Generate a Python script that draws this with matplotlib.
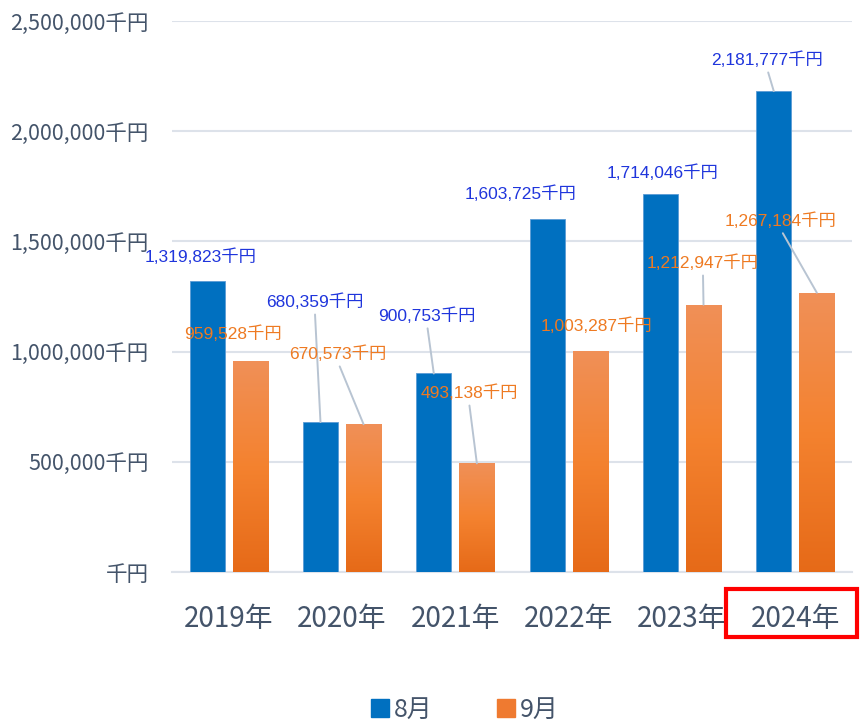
import numpy as np
import matplotlib
matplotlib.use("Agg")
import matplotlib.pyplot as plt
from matplotlib.colors import LinearSegmentedColormap
from matplotlib.patches import Rectangle, Patch

plt.rcParams['font.family'] = ['Noto Sans CJK JP', 'DejaVu Sans']

# data
years = ['2019年', '2020年', '2021年', '2022年', '2023年', '2024年']
aug = [1319823, 680359, 900753, 1603725, 1714046, 2181777]
sep = [959528, 670573, 493138, 1003287, 1212947, 1267184]
series_names = ['8月', '9月']

# label placement (data coords) and whether a leader line is drawn
aug_label_pos = [(-0.25, 1.43e6), (0.76, 1.225e6), (1.75, 1.162e6),
                 (2.58, 1.715e6), (3.83, 1.81e6), (4.75, 2.323e6)]
aug_leader = [False, True, True, False, False, True]
sep_label_pos = [(0.04, 1.08e6), (0.965, 0.989e6), (2.12, 0.812e6),
                 (3.25, 1.116e6), (4.185, 1.402e6), (4.87, 1.593e6)]
sep_leader = [False, True, True, False, True, True]

BLUE = '#0070C0'
LABEL_BLUE = '#1F35DC'
LABEL_ORANGE = '#EE7A22'
TICK_COLOR = '#44546A'
GRID_COLOR = '#DDE2EA'
LEADER_COLOR = '#B8C4D2'
LABEL_FONT = ['Liberation Sans', 'Noto Sans CJK JP']
orange_cmap = LinearSegmentedColormap.from_list('og', ['#F09058', '#F4822F', '#E66A18'])

fig = plt.figure(figsize=(8.61, 7.24), dpi=100)
ax = fig.add_axes([0.1998, 0.2099, 0.7897, 0.7611])

x = np.arange(len(years))
w = 0.31
off = 0.19

ax.bar(x - off, aug, width=w, color=BLUE, edgecolor='#5B9BD5', linewidth=0.6, zorder=3)
obars = ax.bar(x + off, sep, width=w, color='none', edgecolor='none', zorder=3)

# gradient fill for orange bars
grad = np.linspace(0, 1, 256).reshape(-1, 1)
for b in obars:
    x0 = b.get_x()
    im = ax.imshow(grad, cmap=orange_cmap, aspect='auto', origin='upper',
                   extent=(x0, x0 + b.get_width(), 0, b.get_height()), zorder=3)
    im.set_clip_path(b)

ax.set_xlim(-0.5, len(years) - 0.5)
ax.set_ylim(0, 2500000)

# value labels
def add_labels(xs, vals, positions, leaders, color):
    for xi, v, (tx, ty), lead in zip(xs, vals, positions, leaders):
        txt = f"{v:,}千円"
        if lead:
            ax.annotate(txt, xy=(xi, v), xytext=(tx, ty), ha='center', va='center',
                        fontsize=12.5, color=color, zorder=5, family=LABEL_FONT,
                        arrowprops=dict(arrowstyle='-', color=LEADER_COLOR, lw=1.4,
                                        shrinkA=1, shrinkB=0, relpos=(0.5, 0)))
        else:
            ax.text(tx, ty, txt, ha='center', va='center', fontsize=12.5, color=color,
                    zorder=5, family=LABEL_FONT)

add_labels(x - off, aug, aug_label_pos, aug_leader, LABEL_BLUE)
add_labels(x + off, sep, sep_label_pos, sep_leader, LABEL_ORANGE)

# axes styling
yt = np.arange(0, 2500001, 500000)
ax.set_yticks(yt)
ax.set_yticklabels([f"{v:,}千円" if v else "千円" for v in yt], fontsize=15.5, color=TICK_COLOR)
ax.set_xticks(x)
ax.set_xticklabels(years, fontsize=20, color=TICK_COLOR)
ax.tick_params(axis='y', length=0, pad=17)
ax.tick_params(axis='x', length=0, pad=23)
ax.grid(axis='y', color=GRID_COLOR, lw=1.5, zorder=0)
ax.set_axisbelow(True)
for s in ['top', 'right', 'left']:
    ax.spines[s].set_visible(False)
ax.spines['bottom'].set_color(GRID_COLOR)
ax.spines['bottom'].set_linewidth(1.5)

# red highlight box round 2024
fig.patches.append(Rectangle((726 / 861, 1 - 637 / 724), 131 / 861, 48 / 724,
                             transform=fig.transFigure, fill=False,
                             edgecolor='#FF0000', linewidth=3))

handles = [Patch(color=BLUE), Patch(color='#EF7A30')]
leg = fig.legend(handles, series_names, loc='center', bbox_to_anchor=(0.54, 0.02),
                 ncol=2, frameon=False, fontsize=18, handlelength=0.7, handleheight=0.7,
                 handletextpad=0.2, columnspacing=2.6)
for t in leg.get_texts():
    t.set_color(TICK_COLOR)

fig.savefig('out.png', dpi=100)
